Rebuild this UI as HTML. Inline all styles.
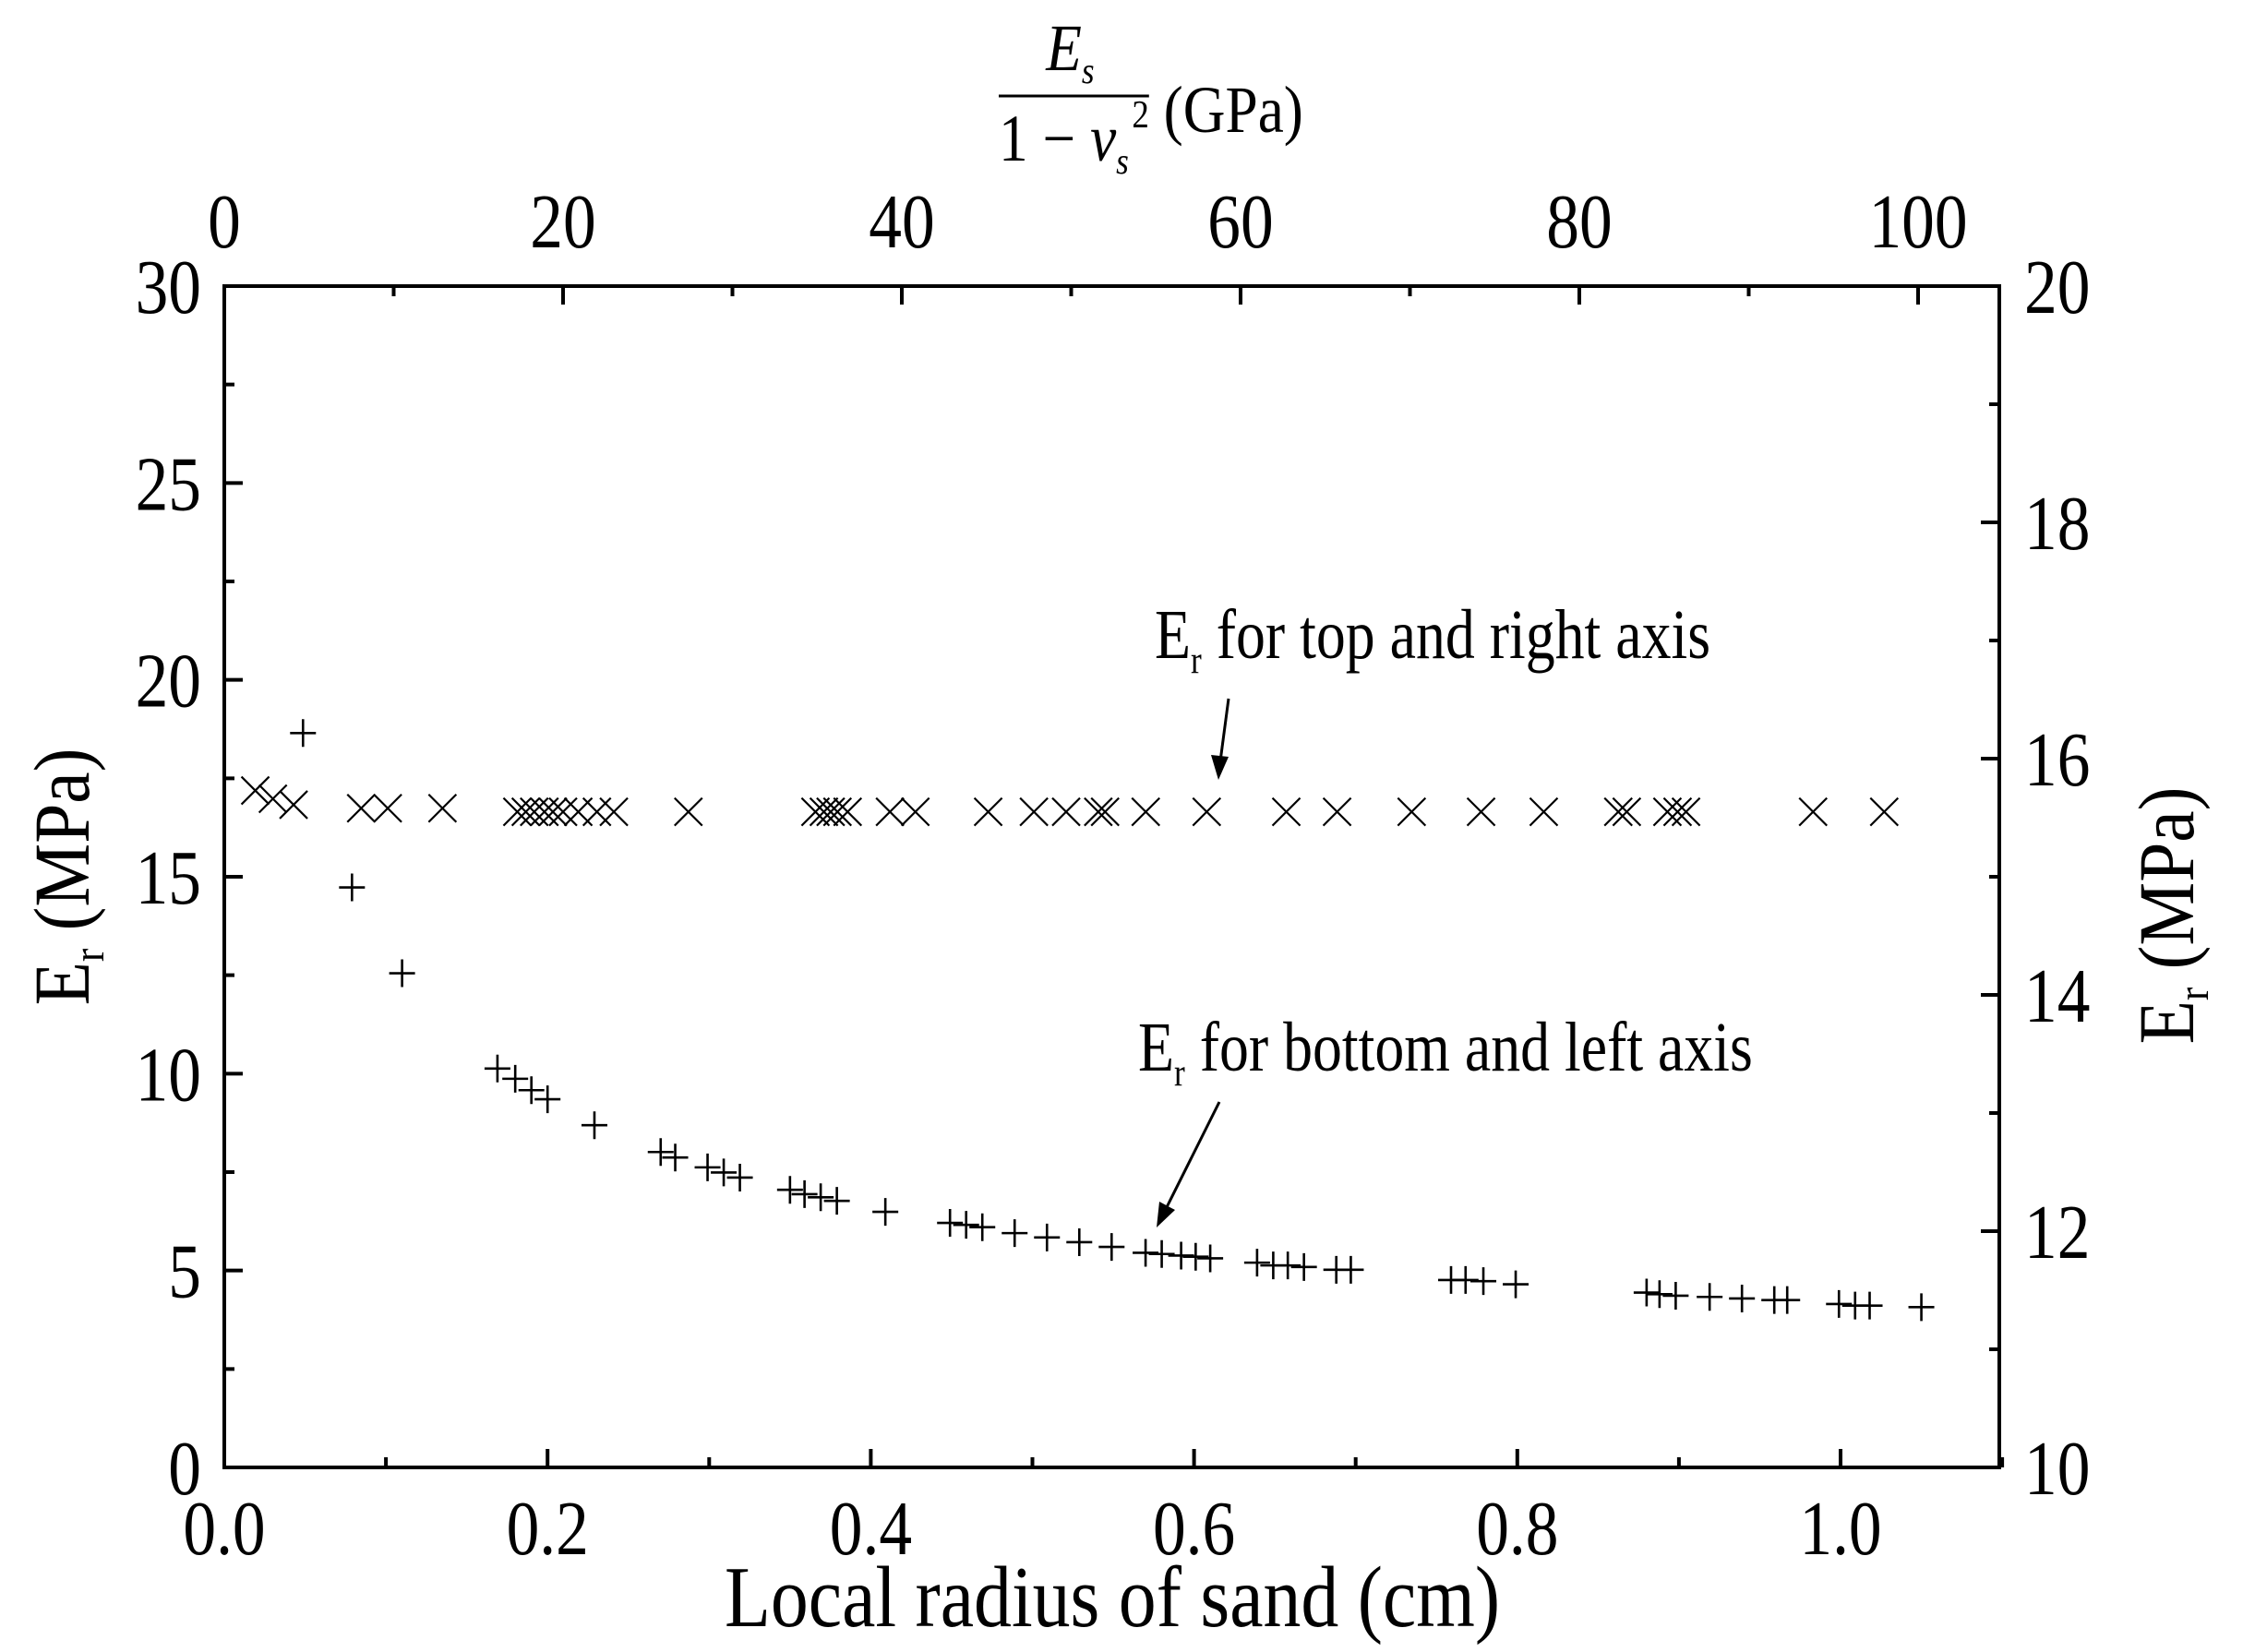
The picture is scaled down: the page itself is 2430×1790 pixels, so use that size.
<!DOCTYPE html>
<html><head><meta charset="utf-8"><style>
html,body{margin:0;padding:0;background:#fff;}
svg{display:block;font-family:"Liberation Serif",serif;}
</style></head><body>
<svg id="chart" width="2430" height="1790" viewBox="0 0 2430 1790" xmlns="http://www.w3.org/2000/svg">
<rect width="2430" height="1790" fill="#fff"/>
<g id="marks"></g>
<g id="axes"></g>
<g fill="#000" transform="translate(1082,0) scale(0.88,1) translate(-1082,0)">
<text x="1170" y="76" font-size="72" font-style="italic" text-anchor="middle">E<tspan font-size="40" dy="14">s</tspan></text>
<line x1="1082" y1="104" x2="1267" y2="104" stroke="#000" stroke-width="3"/>
<text x="1082" y="174" font-size="72">1 − <tspan font-style="italic">v</tspan><tspan font-size="40" dy="14" font-style="italic">s</tspan><tspan font-size="42" dy="-50" dx="4">2</tspan></text>
<text x="1285" y="143" font-size="72">(GPa)</text>
</g>
<text transform="translate(1205,1762) scale(0.87,1)" font-size="94" text-anchor="middle">Local radius of sand (cm)</text>
<text transform="translate(96,950) rotate(-90) scale(0.9,1)" font-size="86" text-anchor="middle">E<tspan font-size="48" dy="16">r</tspan><tspan dy="-16"> (MPa)</tspan></text>
<text transform="translate(2376,992) rotate(-90) scale(0.9,1)" font-size="86" text-anchor="middle">E<tspan font-size="48" dy="16">r</tspan><tspan dy="-16"> (MPa)</tspan></text>
<text transform="translate(1251,713) scale(0.84,1)" font-size="76">E<tspan font-size="42" dy="16">r</tspan><tspan dy="-16"> for top and right axis</tspan></text>
<text transform="translate(1233,1160) scale(0.84,1)" font-size="76">E<tspan font-size="42" dy="16">r</tspan><tspan dy="-16"> for bottom and left axis</tspan></text>
<g stroke="#000" stroke-width="3" fill="#000">
<line x1="1331" y1="757" x2="1322" y2="825"/>
<polygon points="1320,845 1312,818 1331,820" stroke="none"/>
<line x1="1321" y1="1194" x2="1262" y2="1312"/>
<polygon points="1253,1330 1256,1302 1273,1311" stroke="none"/>
</g>
</svg>
<script>
// bottom/left series (plus markers)
const plusX = [0.0487,0.079,0.11,0.169,0.180,0.190,0.200,0.229,0.270,0.279,0.299,0.309,0.319,0.350,0.359,0.369,0.379,0.409,0.449,0.459,0.469,0.489,0.509,0.529,0.549,0.570,0.580,0.592,0.601,0.610,0.639,0.649,0.658,0.668,0.688,0.697,0.759,0.768,0.779,0.799,0.880,0.888,0.898,0.919,0.939,0.959,0.967,0.999,1.009,1.018,1.05];
const plusY = [18.65,14.73,12.55,10.13,9.87,9.58,9.35,8.69,8.01,7.87,7.62,7.49,7.36,7.05,6.94,6.86,6.77,6.49,6.21,6.16,6.10,5.95,5.84,5.72,5.6,5.45,5.42,5.38,5.35,5.31,5.2,5.13,5.13,5.09,5.02,5.02,4.76,4.76,4.73,4.65,4.44,4.40,4.36,4.33,4.29,4.25,4.25,4.15,4.11,4.11,4.07];
// top/right series (cross markers)
const crossX = [1.83,2.87,4.09,8.08,9.65,12.88,17.3,17.8,18.3,18.9,19.4,20.0,20.9,22.0,23.0,27.4,34.9,35.4,35.8,36.2,36.8,39.3,40.8,45.1,47.8,49.7,51.6,52.0,54.4,58.0,62.7,65.7,70.1,74.2,77.9,82.3,82.8,85.2,85.8,86.3,93.8,98.0];
const crossY = [15.73,15.66,15.61,15.58,15.58,15.58,15.55,15.55,15.55,15.55,15.55,15.55,15.55,15.55,15.55,15.55,15.55,15.55,15.55,15.55,15.55,15.55,15.55,15.55,15.55,15.55,15.55,15.55,15.55,15.55,15.55,15.55,15.55,15.55,15.55,15.55,15.55,15.55,15.55,15.55,15.55,15.55];
const bottomTicks = ["0.0","0.2","0.4","0.6","0.8","1.0"];
const leftTicks = ["0","5","10","15","20","25","30"];
const topTicks = ["0","20","40","60","80","100"];
const rightTicks = ["10","12","14","16","18","20"];

const L=243,R=2166,T=310,B=1590;
const xb=v=>L+v*1751;
const yl=v=>B-v*(B-T)/30;
const xt=v=>L+v*18.35;
const yr=v=>B-(v-10)*(B-T)/10;
const NS="http://www.w3.org/2000/svg";
function mk(tag,attrs,parent){const e=document.createElementNS(NS,tag);for(const k in attrs)e.setAttribute(k,attrs[k]);parent.appendChild(e);return e;}
const marks=document.getElementById('marks'), axes=document.getElementById('axes');

plusX.forEach((v,i)=>{
  const cx=xb(v), cy=yl(plusY[i]);
  const g=mk('path',{d:`M${cx-14} ${cy}H${cx+14}M${cx} ${cy-15}V${cy+15}`,stroke:'#000','stroke-width':2.6,fill:'none'},marks);
  
  
});
crossX.forEach((v,i)=>{
  const cx=xt(v), cy=yr(crossY[i]), s=15;
  const g=mk('path',{d:`M${cx-s} ${cy-s}L${cx+s} ${cy+s}M${cx+s} ${cy-s}L${cx-s} ${cy+s}`,stroke:'#000','stroke-width':2.2,fill:'none'},marks);
  
  
});

const frame=mk('rect',{x:L,y:T,width:R-L,height:B-T,fill:'none',stroke:'#000','stroke-width':4},axes);


let d='';
for(let i=0;i<=11;i++){const x=xb(i*0.1),len=i%2?11:20;d+=`M${x} ${B}V${B-len}`;}
for(let i=0;i<=10;i++){const x=xt(i*10),len=i%2?11:20;d+=`M${x} ${T}V${T+len}`;}
for(let i=0;i<=12;i++){const y=yl(i*2.5),len=i%2?11:20;d+=`M${L} ${y}H${L+len}`;}
for(let i=0;i<=10;i++){const y=yr(10+i),len=i%2?11:20;d+=`M${R} ${y}H${R-len}`;}
const tk=mk('path',{d:d,stroke:'#000','stroke-width':4,fill:'none'},axes);



function lab(txt,x,y,anchor,name){const t=mk('text',{x:0,y:0,transform:`translate(${x},${y}) scale(0.85,1)`,'font-size':84,'text-anchor':anchor,fill:'#000'},axes);t.textContent=txt;
  
  }
bottomTicks.forEach(s=>lab(s,xb(parseFloat(s)),1684,'middle','x-tick-label'));
leftTicks.forEach(s=>lab(s,218,yl(parseFloat(s))+29,'end','left-y-tick-label'));
topTicks.forEach(s=>lab(s,xt(parseFloat(s)),268,'middle','top-x-tick-label'));
rightTicks.forEach(s=>lab(s,2193,yr(parseFloat(s))+29,'start','right-y-tick-label'));
</script>
</body></html>
